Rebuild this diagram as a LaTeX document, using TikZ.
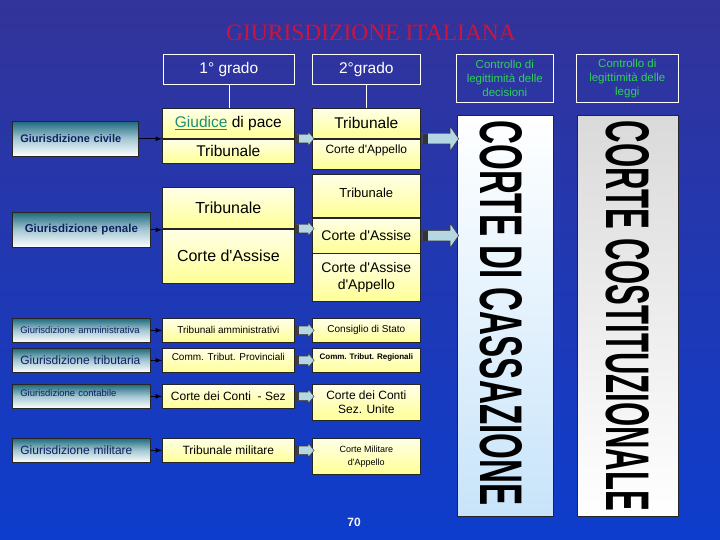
\documentclass[tikz,border=0pt]{standalone}
\usepackage{fontspec}
\setmainfont{Liberation Sans}
\newfontfamily\titlefont{Liberation Serif}
\usetikzlibrary{positioning, shapes.arrows, calc}
\definecolor{bgtop}{RGB}{51,51,153}
\definecolor{bgbottom}{RGB}{13,61,204}
\definecolor{titlered}{RGB}{204,20,60}
\definecolor{ctrlgreen}{RGB}{45,210,85}
\definecolor{lefttop}{RGB}{30,105,125}
\definecolor{leftmid}{RGB}{165,200,212}
\definecolor{lefttext}{RGB}{16,32,96}
\definecolor{celltop}{RGB}{255,255,232}
\definecolor{cellbottom}{RGB}{255,255,150}
\definecolor{arrowblue}{RGB}{180,215,225}
\definecolor{cassblue}{RGB}{200,228,250}
\definecolor{costgray}{RGB}{218,218,218}
\definecolor{giudice}{RGB}{30,140,120}
\newcommand{\Size}[2]{\fontsize{#1}{#2}\selectfont}
\newcommand{\Apos}{\textquotesingle}
\tikzset{
    boxline/.style={draw=black!85, line width=0.7pt},
    leftbox/.style={boxline, anchor=north west, top color=lefttop, bottom color=white, middle color=leftmid,
        minimum width=138pt, minimum height=24pt, text width=122pt, align=left,
        inner xsep=8pt, inner ysep=0pt, text=lefttext},
    cell/.style={boxline, anchor=north west, top color=celltop, bottom color=cellbottom,
        inner sep=0pt, align=center, text=black},
    firstcell/.style={cell, minimum width=132pt},
    secondcell/.style={cell, minimum width=108pt},
    grade/.style={draw=white, line width=0.6pt, anchor=north west, inner sep=0pt,
        minimum height=30pt, text=white, font=\Size{15.5}{18}},
    control/.style={draw=white, line width=0.6pt, anchor=north west, inner sep=0pt,
        minimum width=97pt, minimum height=48pt, align=center, text=ctrlgreen, font=\Size{11.5}{14}},
    feed/.style={->, >=latex, line width=1.2pt, draw=black!90!blue},
    smallarrow/.style={single arrow, draw=black!80, fill=arrowblue, minimum height=18pt,
        inner xsep=0pt, inner ysep=4pt, text height=0pt, text depth=0pt,
        single arrow head extend=3pt, single arrow tip angle=100,
        path picture={\fill[black!75] (path picture bounding box.south west) rectangle ([xshift=3pt]path picture bounding box.north west);}},
    bigarrow/.style={single arrow, draw=black!80, fill=arrowblue, minimum height=36pt,
        inner xsep=0pt, inner ysep=5pt, text height=0pt, text depth=0pt,
        single arrow head extend=7pt, single arrow tip angle=110,
        path picture={\fill[black!80] (path picture bounding box.south west) rectangle ([xshift=5pt]path picture bounding box.north west);}},
}

\begin{document}
\begin{tikzpicture}[x=1pt, y=-1pt]
    \useasboundingbox (0,0) rectangle (720,540);
    \fill[top color=bgtop, bottom color=bgbottom] (0,0) rectangle (720,540);

    \node[font=\titlefont\Size{23.5}{28}, text=titlered] (title) at (371,33) {GIURISDIZIONE ITALIANA};

    \node[grade, minimum width=131pt] (grado1) at (163,54) {1° grado};
    \node[grade, minimum width=108pt] (grado2) at (312,54) {2°grado};
    \node[control] (ctrl1) at (456,54) {Controllo di\\legittimità delle\\decisioni};
    \node[control, minimum width=102pt] (ctrl2) at (576,54) {Controllo di\\legittimità delle\\leggi};

    \node[boxline, anchor=north west, top color=white, bottom color=cassblue,
        minimum width=96pt, minimum height=401pt] (cass) at (457,115) {};
    \node[rotate=-90, inner sep=0pt] (casstext) at ($(cass.center)+(-4,-3)$)
        {\resizebox{385pt}{42pt}{\bfseries CORTE DI CASSAZIONE}};
    \node[boxline, anchor=north west, top color=costgray, bottom color=white,
        minimum width=101pt, minimum height=401pt] (cost) at (577,115) {};
    \node[rotate=-90, inner sep=0pt] (costtext) at ($(cost.center)+(0,0)$)
        {\resizebox{390pt}{43pt}{\bfseries CORTE COSTITUZIONALE}};

    \node[leftbox, minimum width=126pt, text width=110pt, minimum height=35pt,
        font=\bfseries\Size{11}{13}] (civ) at (12,121) {Giurisdizione civile};
    \node[firstcell, minimum height=30pt, font=\Size{15.5}{18}] (civ1a) at (162,108)
        {\textcolor{giudice}{\underline{Giudice}} di pace};
    \node[firstcell, minimum height=24pt, below=0pt of civ1a, font=\Size{15.5}{18}] (civ1b) {Tribunale};
    \node[secondcell, minimum height=30pt, font=\Size{15.5}{18}] (civ2a) at (312,108) {Tribunale};
    \node[secondcell, minimum height=30pt, below=0pt of civ2a, text depth=9pt, font=\Size{12}{14}] (civ2b) {Corte d\Apos Appello};

    \node[leftbox, minimum height=35pt, align=center,
        font=\bfseries\Size{11.5}{13}] (pen) at (12,212) {Giurisdizione penale};
    \node[firstcell, minimum height=41pt, font=\Size{16}{19}] (pen1a) at (162,187) {Tribunale};
    \node[firstcell, minimum height=54pt, below=0pt of pen1a, font=\Size{16}{19}] (pen1b) {Corte d\Apos Assise};
    \node[secondcell, minimum height=43pt, text depth=7pt, font=\Size{13}{16}] (pen2a) at (312,174) {Tribunale};
    \node[secondcell, minimum height=35pt, below=0pt of pen2a, font=\Size{14}{17}] (pen2b) {Corte d\Apos Assise};
    \node[secondcell, minimum height=48pt, below=0pt of pen2b, font=\Size{14}{17}] (pen2c) {Corte d\Apos Assise\\d\Apos Appello};

    \node[leftbox, font=\Size{9.5}{11}] (amm) at (12,318) {Giurisdizione amministrativa};
    \node[firstcell, minimum height=24pt, font=\Size{10}{12}] (amm1) at (162,318) {Tribunali amministrativi};
    \node[secondcell, minimum height=24pt, font=\Size{10}{12}] (amm2) at (312,318) {Consiglio di Stato};

    \node[leftbox, font=\Size{12}{14}] (trib) at (12,348) {Giurisdizione tributaria};
    \node[firstcell, minimum height=24pt, text depth=6pt, font=\Size{10}{12}] (trib1) at (162,348) {Comm. Tribut. Provinciali};
    \node[secondcell, minimum height=24pt, text depth=8pt, font=\bfseries\Size{8}{10}] (trib2) at (312,348) {Comm. Tribut. Regionali};

    \node[leftbox, text depth=6pt, font=\Size{9.5}{11}] (cont) at (12,384) {Giurisdizione contabile};
    \node[firstcell, minimum height=24pt, font=\Size{12}{14}] (cont1) at (162,384) {Corte dei Conti\ \ - Sez};
    \node[secondcell, minimum height=36pt, font=\Size{12}{14}] (cont2) at (312,384) {Corte dei Conti\\Sez. Unite};

    \node[leftbox, font=\Size{12}{14}] (mil) at (12,438) {Giurisdizione militare};
    \node[firstcell, minimum height=24pt, font=\Size{12}{14}] (mil1) at (162,438) {Tribunale militare};
    \node[secondcell, minimum height=36pt, font=\Size{9}{13}] (mil2) at (312,438) {Corte Militare\\d\Apos Appello};

    \draw[white, line width=0.6pt] (grado1.south) -- (grado1.south |- civ1a.north);
    \draw[white, line width=0.6pt] (grado2.south) -- (grado2.south |- civ2a.north);

    \draw[feed] (civ.east) -- (civ.east -| civ1b.west);
    \draw[feed] (pen.east) -- (pen.east -| pen1b.west);
    \draw[feed] (amm.east) -- (amm1.west);
    \draw[feed] (trib.east) -- (trib1.west);
    \draw[feed] (cont.east) -- (cont1.west);
    \draw[feed] (mil.east) -- (mil1.west);

    \path (civ1b.north east) -- (civ1b.north east -| civ2b.west) node[midway, smallarrow] (sa1) {};
    \path (pen1b.north east) -- (pen1b.north east -| pen2b.west) node[midway, smallarrow] (sa2) {};
    \path (amm1.east) -- (amm2.west) node[midway, smallarrow] (sa3) {};
    \path (trib1.east) -- (trib2.west) node[midway, smallarrow] (sa4) {};
    \path (cont1.east) -- (cont1.east -| cont2.west) node[midway, smallarrow] (sa5) {};
    \path (mil1.east) -- (mil1.east -| mil2.west) node[midway, smallarrow] (sa6) {};

    \path (civ2a.south east) -- (civ2a.south east -| cass.west) node[midway, bigarrow] (ba1) {};
    \path (pen2b.east) -- (pen2b.east -| cass.west) node[midway, bigarrow] (ba2) {};

    \node[font=\bfseries\Size{12}{14}, text=white!92!gray] (pagenum) at (354,522) {70};
\end{tikzpicture}
\end{document}
